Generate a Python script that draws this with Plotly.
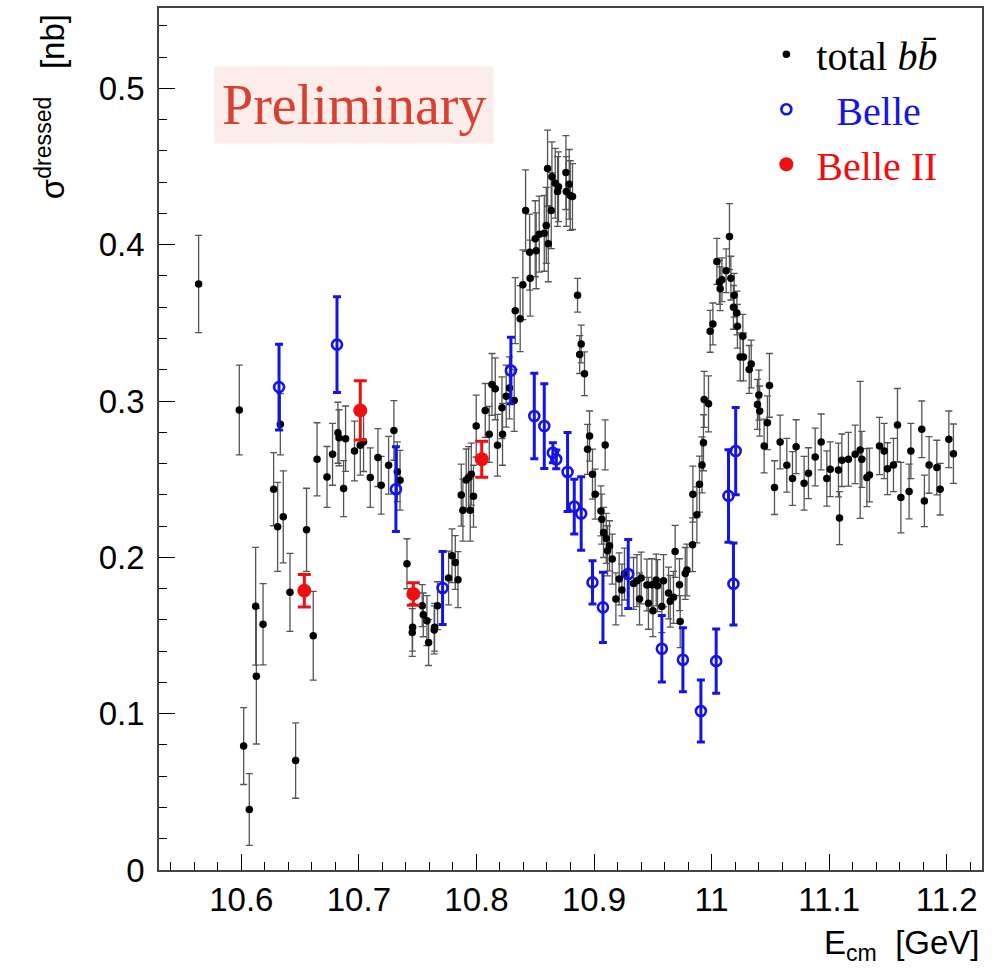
import plotly.graph_objects as go

# ---------------- data ----------------
# total b-bbar (black)
bb_x = [10.5637, 10.5983, 10.6020, 10.6068, 10.6122, 10.6128, 10.6185, 10.6275, 10.6309, 10.6332,
        10.6357, 10.6414, 10.6462, 10.6555, 10.6612, 10.6644, 10.6729, 10.6776, 10.6822, 10.6831,
        10.6870, 10.6887, 10.6963, 10.7012, 10.7040, 10.7097, 10.7162, 10.7190, 10.7253, 10.7298,
        10.7327, 10.7350, 10.7409, 10.7457, 10.7454, 10.7539, 10.7548, 10.7579, 10.7593, 10.7641,
        10.7644, 10.7669, 10.7763, 10.7792, 10.7820, 10.7843, 10.7871, 10.7885, 10.7913, 10.7933,
        10.7947, 10.7956, 10.7975, 10.7998, 10.8075, 10.8109, 10.8132, 10.8160, 10.8179, 10.8217,
        10.8222, 10.8253, 10.8281, 10.8321, 10.8330, 10.8372, 10.8395, 10.8418, 10.8452, 10.8457,
        10.8500, 10.8508, 10.8534, 10.8577, 10.8594, 10.8605, 10.8611, 10.8636, 10.8642, 10.8670,
        10.8690, 10.8698, 10.8761, 10.8764, 10.8789, 10.8798, 10.8817, 10.8860, 10.8891, 10.8878,
        10.8919, 10.8945, 10.8962, 10.8987, 10.9010, 10.9059, 10.9066, 10.9081, 10.9095, 10.9104,
        10.9115, 10.9132, 10.9155, 10.9186, 10.9214, 10.9237, 10.9259, 10.9336, 10.9365, 10.9387,
        10.9401, 10.9450, 10.9463, 10.9492, 10.9501, 10.9529, 10.9540, 10.9577, 10.9591, 10.9634,
        10.9648, 10.9676, 10.9690, 10.9727, 10.9733, 10.9776, 10.9790, 10.9838, 10.9841, 10.9875,
        10.9897, 10.9918, 10.9931, 10.9937, 10.9974, 10.9988, 11.0011, 11.0045, 11.0067, 11.0088,
        11.0073, 11.0124, 11.0152, 11.0164, 11.0192, 11.0186, 11.0215, 11.0220, 11.0266, 11.0243,
        11.0271, 11.0337, 11.0320, 11.0402, 11.0390, 11.0409, 11.0492, 11.0475, 11.0447, 11.0583,
        11.0535, 11.0640, 11.0688, 11.0719, 11.0787, 11.0824, 11.0881, 11.0932, 11.0980, 11.1009,
        11.1079, 11.1088, 11.1108, 11.1164, 11.1221, 11.1264, 11.1278, 11.1321, 11.1343, 11.1428,
        11.1468, 11.1496, 11.1547, 11.1581, 11.1610, 11.1680, 11.1695, 11.1788, 11.1810, 11.1850,
        11.1916, 11.1944, 11.2018, 11.2057]
bb_y = [0.3748, 0.2942, 0.0793, 0.0387, 0.1687, 0.1240, 0.1572, 0.2436, 0.2195, 0.2851,
        0.2259, 0.1776, 0.0700, 0.2176, 0.1498, 0.2627, 0.2514, 0.2659, 0.2797, 0.2765,
        0.2440, 0.2759, 0.2680, 0.2717, 0.2740, 0.2510, 0.2638, 0.2461, 0.2589, 0.2812,
        0.2548, 0.2493, 0.1959, 0.1553, 0.1519, 0.1691, 0.1632, 0.1595, 0.1455, 0.1536,
        0.1553, 0.1691, 0.1868, 0.2010, 0.1967, 0.1857, 0.2398, 0.2302, 0.2495, 0.2510,
        0.2302, 0.2532, 0.2391, 0.2840, 0.2940, 0.2787, 0.3106, 0.3078, 0.2717, 0.2957,
        0.2787, 0.3031, 0.3084, 0.3004, 0.3578, 0.3527, 0.3744, 0.4218, 0.3952, 0.3786,
        0.4038, 0.3961, 0.4067, 0.4073, 0.4123, 0.4488, 0.4006, 0.4218, 0.4435, 0.4393,
        0.4340, 0.4371, 0.4461, 0.4340, 0.4386, 0.4314, 0.4308, 0.3676, 0.3365, 0.3297,
        0.3174, 0.2691, 0.2776, 0.2532, 0.2404, 0.2297, 0.2244, 0.2159, 0.2719, 0.2121,
        0.2042, 0.2074, 0.1989, 0.1734, 0.1862, 0.1791, 0.1893, 0.1833, 0.1851, 0.1734,
        0.1868, 0.1823, 0.1706, 0.1825, 0.1659, 0.1855, 0.1819, 0.1685, 0.1851, 0.1772,
        0.1719, 0.1744, 0.2038, 0.1825, 0.1589, 0.1897, 0.1919, 0.2080, 0.2404, 0.2272,
        0.2468, 0.2591, 0.2733, 0.3010, 0.2982, 0.3446, 0.3493, 0.3893, 0.3759, 0.3776,
        0.3718, 0.3833, 0.4052, 0.3786, 0.3676, 0.3599, 0.3563, 0.3478, 0.3414, 0.3282,
        0.3282, 0.3237, 0.3202, 0.3038, 0.2978, 0.2936, 0.3100, 0.2861, 0.2712, 0.2738,
        0.2446, 0.2589, 0.2504, 0.2708, 0.2474, 0.2538, 0.2642, 0.2738, 0.2504, 0.2563,
        0.2559, 0.2251, 0.2621, 0.2627, 0.2659, 0.2687, 0.2627, 0.2510, 0.2527, 0.2712,
        0.2680, 0.2567, 0.2591, 0.2846, 0.2382, 0.2421, 0.2680, 0.2819, 0.2361, 0.2591,
        0.2574, 0.2436, 0.2755, 0.2663]
bb_err = [0.0311, 0.0287, 0.0246, 0.0230, 0.0377, 0.0434, 0.0260, 0.0234, 0.0285, 0.0196,
          0.0294, 0.0249, 0.0241, 0.0266, 0.0284, 0.0234, 0.0195, 0.0198, 0.0195, 0.0179,
          0.0179, 0.0209, 0.0191, 0.0191, 0.0191, 0.0190, 0.0185, 0.0185, 0.0185, 0.0191,
          0.0191, 0.0191, 0.0160, 0.0153, 0.0153, 0.0134, 0.0140, 0.0160, 0.0147, 0.0153,
          0.0153, 0.0153, 0.0172, 0.0172, 0.0172, 0.0179, 0.0198, 0.0198, 0.0198, 0.0198,
          0.0198, 0.0198, 0.0198, 0.0198, 0.0172, 0.0179, 0.0198, 0.0198, 0.0198, 0.0198,
          0.0198, 0.0198, 0.0198, 0.0198, 0.0211, 0.0211, 0.0223, 0.0260, 0.0243, 0.0243,
          0.0243, 0.0243, 0.0243, 0.0243, 0.0243, 0.0245, 0.0243, 0.0243, 0.0223, 0.0223,
          0.0223, 0.0223, 0.0236, 0.0223, 0.0223, 0.0223, 0.0211, 0.0108, 0.0121, 0.0121,
          0.0140, 0.0160, 0.0160, 0.0160, 0.0160, 0.0160, 0.0160, 0.0160, 0.0160, 0.0160,
          0.0160, 0.0160, 0.0160, 0.0166, 0.0166, 0.0166, 0.0166, 0.0166, 0.0166, 0.0166,
          0.0166, 0.0166, 0.0166, 0.0166, 0.0166, 0.0166, 0.0166, 0.0166, 0.0166, 0.0166,
          0.0166, 0.0166, 0.0166, 0.0166, 0.0166, 0.0166, 0.0166, 0.0172, 0.0179, 0.0179,
          0.0179, 0.0179, 0.0179, 0.0179, 0.0179, 0.0134, 0.0134, 0.0147, 0.0140, 0.0140,
          0.0140, 0.0140, 0.0211, 0.0140, 0.0140, 0.0140, 0.0140, 0.0140, 0.0140, 0.0153,
          0.0153, 0.0153, 0.0153, 0.0160, 0.0160, 0.0160, 0.0204, 0.0172, 0.0172, 0.0172,
          0.0172, 0.0172, 0.0172, 0.0172, 0.0172, 0.0163, 0.0185, 0.0179, 0.0177, 0.0175,
          0.0172, 0.0170, 0.0168, 0.0172, 0.0187, 0.0438, 0.0179, 0.0185, 0.0172, 0.0183,
          0.0177, 0.0166, 0.0170, 0.0234, 0.0225, 0.0175, 0.0177, 0.0181, 0.0165, 0.0181,
          0.0175, 0.0165, 0.0181, 0.0190]

# Belle (blue, open circles)
belle_x = [10.6321, 10.6814, 10.7315, 10.7712, 10.8293, 10.8492, 10.8577, 10.8650, 10.8679, 10.8775,
           10.8832, 10.8891, 10.8987, 10.9076, 10.9291, 10.9577, 10.9756, 10.9909, 11.0039, 11.0144,
           11.0186, 11.0205]
belle_y = [0.3089, 0.3361, 0.2436, 0.1804, 0.3195, 0.2904, 0.2840, 0.2669, 0.2627, 0.2546,
           0.2325, 0.2280, 0.1840, 0.1680, 0.1893, 0.1415, 0.1345, 0.1017, 0.1336, 0.2393,
           0.1830, 0.2680]
belle_err = [0.0274, 0.0306, 0.0271, 0.0234, 0.0213, 0.0274, 0.0271, 0.0064, 0.0060, 0.0253,
             0.0175, 0.0235, 0.0138, 0.0224, 0.0221, 0.0213, 0.0204, 0.0198, 0.0205, 0.0296,
             0.0262, 0.0279]

# Belle II (red, filled circles)
belle2_x = [10.6536, 10.7012, 10.7463, 10.8045]
belle2_y = [0.1787, 0.2940, 0.1766, 0.2627]
belle2_err = [0.0104, 0.0190, 0.0072, 0.0115]

x_range = [10.53, 11.23]
y_range = [0.0, 0.5514]
x_ticks = [10.6, 10.7, 10.8, 10.9, 11.0, 11.1, 11.2]
x_ticklabels = ["10.6", "10.7", "10.8", "10.9", "11", "11.1", "11.2"]
y_ticks = [0, 0.1, 0.2, 0.3, 0.4, 0.5]
y_ticklabels = ["0", "0.1", "0.2", "0.3", "0.4", "0.5"]

BLUE = "#1414e6"
RED = "#ee1010"
NB = "\u00a0"

fig = go.Figure()

fig.add_trace(go.Scatter(
    x=bb_x, y=bb_y, mode="markers",
    name=NB + "total <i>b</i><i>b\u0304</i>",
    marker=dict(symbol="circle", size=7.5, color="black"),
    error_y=dict(type="data", array=bb_err, visible=True, color="#555555",
                 thickness=1.3, width=3.5),
))
fig.add_trace(go.Scatter(
    x=belle_x, y=belle_y, mode="markers",
    name=NB * 3 + "<span style=\"color:%s\">Belle</span>" % BLUE,
    marker=dict(symbol="circle-open", size=10, color=BLUE, line=dict(width=2.6, color=BLUE)),
    error_y=dict(type="data", array=belle_err, visible=True, color=BLUE,
                 thickness=3, width=4),
))
fig.add_trace(go.Scatter(
    x=belle2_x, y=belle2_y, mode="markers",
    name=NB + "<span style=\"color:%s\">Belle II</span>" % RED,
    marker=dict(symbol="circle", size=14, color=RED),
    error_y=dict(type="data", array=belle2_err, visible=True, color=RED,
                 thickness=3, width=6.5),
))

axis_common = dict(
    showgrid=False, zeroline=False, showline=True, linecolor="#444444", linewidth=1.5,
    mirror=True, ticks="inside", ticklen=16, tickwidth=1.2, tickcolor="black",
    tickfont=dict(family="Liberation Sans, Arial, sans-serif", size=33, color="black"),
)

fig.update_xaxes(range=x_range, tickmode="array", tickvals=x_ticks, ticktext=x_ticklabels,
                 minor=dict(dtick=0.02, tick0=10.6, ticks="inside", ticklen=8,
                            tickcolor="black", tickwidth=1, showgrid=False),
                 **axis_common)
fig.update_yaxes(range=y_range, tickmode="array", tickvals=y_ticks, ticktext=y_ticklabels,
                 minor=dict(dtick=0.02, tick0=0, ticks="inside", ticklen=8,
                            tickcolor="black", tickwidth=1, showgrid=False),
                 ticklabelstandoff=6,
                 **axis_common)

fig.add_annotation(
    text="Preliminary", xref="paper", yref="paper", x=0.2373, y=0.8869,
    xanchor="center", yanchor="middle", showarrow=False,
    font=dict(family="Liberation Serif, Times New Roman, serif", size=56, color="#d8412f"),
    bgcolor="#fcecea", borderpad=7,
)
fig.add_annotation(
    text="\u03c3<sup>dressed</sup>" + NB * 3 + "[nb]", xref="paper", yref="paper",
    x=-0.132, y=0.995, xanchor="center", yanchor="top", textangle=-90, showarrow=False,
    font=dict(family="Liberation Sans, Arial, sans-serif", size=33, color="black"),
)
fig.add_annotation(
    text="E<sub>cm</sub>" + NB * 2 + "[GeV]", xref="paper", yref="paper",
    x=1.0, y=-0.060, xanchor="right", yanchor="top", showarrow=False,
    font=dict(family="Liberation Sans, Arial, sans-serif", size=33, color="black"),
)

fig.update_layout(
    width=999, height=974,
    margin=dict(l=159, r=17, t=6, b=104),
    paper_bgcolor="white", plot_bgcolor="white",
    showlegend=True,
    legend=dict(x=0.738, y=0.984, xanchor="left", yanchor="top",
                bgcolor="white", borderwidth=0,
                font=dict(family="Liberation Serif, Times New Roman, serif", size=40, color="black"),
                tracegroupgap=0, itemsizing="trace"),
)

fig.write_html("out.html")
